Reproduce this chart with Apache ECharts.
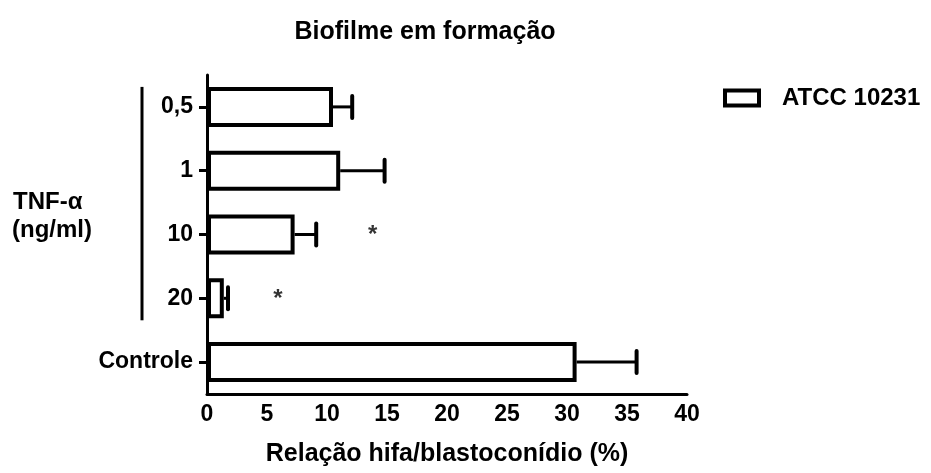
<!DOCTYPE html>
<html><head><meta charset="utf-8">
<script src="https://cdn.jsdelivr.net/npm/echarts@6/dist/echarts.min.js"></script>
<style>html,body{margin:0;padding:0;background:#fff}#c{width:931px;height:473px}</style>
</head><body><div id="c"></div>
<script>
const categories = ['0,5', '1', '10', '20', 'Controle'];
const means = [10.5, 11.1, 7.3, 1.4, 30.8];
const errors = [1.6, 3.7, 1.8, 0.35, 5.0];
const starCats = ['10', '20'];
const starX = [13.8, 5.9];
const xTicks = [0, 5, 10, 15, 20, 25, 30, 35, 40];

const FONT = 'Liberation Sans, Arial, sans-serif';
const chart = echarts.init(document.getElementById('c'));
const errData = categories.map((c, i) => [means[i], means[i] + errors[i], c]);
const starData = starCats.map((c, i) => [starX[i], c]);

chart.setOption({
  animation: false,
  backgroundColor: '#fff',
  title: {
    text: 'Biofilme em formação', left: 420, top: 15, textAlign: 'center',
    textStyle: { fontFamily: FONT, fontWeight: 'bold', fontSize: 25, color: '#000' }
  },
  legend: {
    left: 718, top: 81, itemWidth: 34, itemHeight: 15, itemGap: 10, icon: 'rect',
    data: ['ATCC 10231'],
    itemStyle: { color: '#fff', borderColor: '#000', borderWidth: 4 },
    textStyle: { fontFamily: FONT, fontWeight: 'bold', fontSize: 24, color: '#000', padding: [0, 0, 0, 18] }
  },
  grid: { left: 207, right: 244, top: 75, bottom: 79, containLabel: false },
  xAxis: {
    type: 'value', min: xTicks[0], max: xTicks[xTicks.length - 1], interval: 5,
    name: 'Relação hifa/blastoconídio (%)', nameLocation: 'middle', nameGap: 48,
    nameTextStyle: { fontFamily: FONT, fontWeight: 'bold', fontSize: 25, color: '#000' },
    axisLine: { show: true, lineStyle: { color: '#000', width: 3 } },
    axisTick: { show: false },
    splitLine: { show: false },
    axisLabel: { fontFamily: FONT, fontWeight: 'bold', fontSize: 23, color: '#000', margin: 9 }
  },
  yAxis: {
    type: 'category', data: categories, inverse: true,
    axisLine: { show: true, lineStyle: { color: '#000', width: 3 } },
    axisTick: { show: true, alignWithLabel: true, length: 8, lineStyle: { color: '#000', width: 3 } },
    axisLabel: { fontFamily: FONT, fontWeight: 'bold', fontSize: 23, color: '#000', margin: 14 }
  },
  series: [
    {
      name: 'ATCC 10231', type: 'bar', data: means, barWidth: 40, z: 2,
      itemStyle: { color: '#fff', borderColor: '#000', borderWidth: 4 }
    },
    {
      type: 'custom', data: errData, encode: { x: [0, 1], y: 2 }, z: 1,
      renderItem: function (params, api) {
        const cat = api.value(2);
        const p0 = api.coord([api.value(0), cat]);
        const p1 = api.coord([api.value(1), cat]);
        const h = 11;
        return {
          type: 'group',
          children: [
            { type: 'line', shape: { x1: p0[0], y1: p0[1], x2: p1[0], y2: p1[1] }, style: { stroke: '#000', lineWidth: 3 } },
            { type: 'line', shape: { x1: p1[0], y1: p1[1] - h, x2: p1[0], y2: p1[1] + h }, style: { stroke: '#000', lineWidth: 4, lineCap: 'round' } }
          ]
        };
      }
    },
    {
      type: 'scatter', data: starData, symbolSize: 0, silent: true,
      label: { show: true, formatter: '*', position: 'inside', fontFamily: FONT, fontWeight: 'bold', fontSize: 24, color: '#000', offset: [0, 1] }
    }
  ]
});

const top05 = chart.convertToPixel({ yAxisIndex: 0 }, '0,5');
const bot20 = chart.convertToPixel({ yAxisIndex: 0 }, '20');
chart.setOption({
  graphic: [
    { type: 'line', shape: { x1: 142, y1: top05 - 20, x2: 142, y2: bot20 + 22 }, style: { stroke: '#000', lineWidth: 3 } },
    { type: 'text', x: 13, y: 202, style: { text: 'TNF-α', fontFamily: FONT, fontWeight: 'bold', fontSize: 24, fill: '#000', textVerticalAlign: 'middle' } },
    { type: 'text', x: 12, y: 230, style: { text: '(ng/ml)', fontFamily: FONT, fontWeight: 'bold', fontSize: 24, fill: '#000', textVerticalAlign: 'middle' } }
  ]
});
</script></body></html>
